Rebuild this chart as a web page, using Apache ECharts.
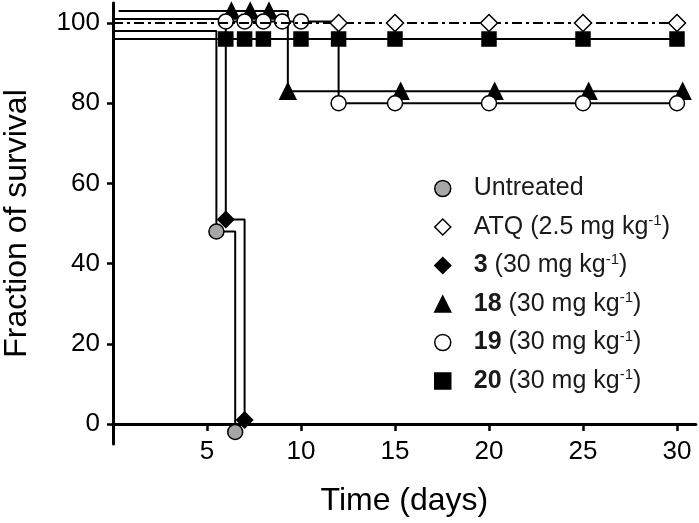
<!DOCTYPE html>
<html><head><meta charset="utf-8">
<script src="https://cdn.jsdelivr.net/npm/echarts@6/dist/echarts.min.js"></script>
<style>html,body{margin:0;padding:0;background:#fff}#c{width:699px;height:523px}</style>
</head><body><div id="c"></div>
<script>
// Axis ticks
const xTicks = [5, 10, 15, 20, 25, 30];
const yTicks = [0, 20, 40, 60, 80, 100];

// Curves (x = day, y = plotted % survival incl. the small display offsets), m = marker shown
const untreatedX = [0, 5.5, 6.5];
const untreatedY = [98, 48, -2];
const untreatedM = [0, 1, 1];

const atqX = [0, 12, 15, 20, 25, 30];
const atqY = [100, 100, 100, 100, 100, 100];
const atqM = [0, 1, 1, 1, 1, 1];

const c3X = [0, 6, 7];
const c3Y = [101, 51, 1];
const c3M = [0, 1, 1];

const c18X = [0.3, 6.3, 7.3, 8.3, 9.3, 15.3, 20.3, 25.3, 30.3];
const c18Y = [103, 103, 103, 103, 83, 83, 83, 83, 83];
const c18M = [0, 1, 1, 1, 1, 1, 1, 1, 1];

const c19X = [0, 6, 7, 8, 9, 10, 12, 15, 20, 25, 30];
const c19Y = [101, 100.4, 100.4, 100.4, 100.4, 100.4, 80, 80, 80, 80, 80];
const c19M = [0, 1, 1, 1, 1, 1, 1, 1, 1, 1, 1];

const c20X = [0, 6, 7, 8, 10, 12, 15, 20, 25, 30];
const c20Y = [96, 96, 96, 96, 96, 96, 96, 96, 96, 96];
const c20M = [0, 1, 1, 1, 1, 1, 1, 1, 1, 1];

const names = ['Untreated', 'ATQ', '3', '18', '19', '20'];
const labels = {
  'Untreated': '{t|Untreated}',
  'ATQ': '{t|ATQ (2.5 mg kg}{s|-1}{t|)}',
  '3': '{b|3}{t| (30 mg kg}{s|-1}{t|)}',
  '18': '{b|18}{t| (30 mg kg}{s|-1}{t|)}',
  '19': '{b|19}{t| (30 mg kg}{s|-1}{t|)}',
  '20': '{b|20}{t| (30 mg kg}{s|-1}{t|)}'
};

function pts(xs, ys, ms) {
  return xs.map((x, i) => ms[i] ? { value: [x, ys[i]] } : { value: [x, ys[i]], symbol: 'none' });
}
function mk(name, xs, ys, ms, symbol, size, fill, dash, z) {
  return {
    name: name, type: 'line', step: 'end', clip: false, z: z,
    data: pts(xs, ys, ms),
    symbol: symbol, symbolSize: size, showAllSymbol: true,
    lineStyle: { color: '#000', width: 2, type: dash || 'solid' },
    itemStyle: { color: fill, borderColor: '#000', borderWidth: 1.5, opacity: 1 },
    emphasis: { disabled: true }
  };
}
const styles = {
  'Untreated': { icon: 'circle', color: '#a6a6a6' },
  'ATQ': { icon: 'diamond', color: '#fff' },
  '3': { icon: 'diamond', color: '#000' },
  '18': { icon: 'triangle', color: '#000' },
  '19': { icon: 'circle', color: '#fff' },
  '20': { icon: 'rect', color: '#000' }
};
const series = [
  mk('Untreated', untreatedX, untreatedY, untreatedM, 'circle', 15, '#a6a6a6', null, 2),
  mk('3', c3X, c3Y, c3M, 'diamond', 16, '#000', null, 3),
  mk('18', c18X, c18Y, c18M, 'triangle', 16, '#000', null, 4),
  mk('19', c19X, c19Y, c19M, 'circle', 15, '#fff', null, 5),
  mk('20', c20X, c20Y, c20M, 'rect', 14, '#000', null, 6),
  mk('ATQ', atqX, atqY, atqM, 'diamond', 17, '#fff', [10, 4, 3, 4], 7)
];

const FF = 'Liberation Sans, Arial, sans-serif';
const chart = echarts.init(document.getElementById('c'), null, { renderer: 'canvas' });
chart.setOption({
  animation: false,
  backgroundColor: '#fff',
  textStyle: { fontFamily: FF, color: '#000' },
  grid: { left: 113, right: 3.2, top: 3, bottom: 79, containLabel: false, outerBoundsMode: 'none' },
  xAxis: {
    type: 'value', min: 0, max: 31,
    name: 'Time (days)', nameLocation: 'middle', nameGap: 41,
    nameTextStyle: { fontSize: 32, color: '#000', fontFamily: FF, verticalAlign: 'top' },
    axisLine: { onZero: true, lineStyle: { color: '#000', width: 3 } },
    axisTick: { customValues: xTicks, length: 7, lineStyle: { color: '#000', width: 2.5 } },
    axisLabel: { customValues: xTicks, fontSize: 26, color: '#000', margin: -5 },
    splitLine: { show: false }
  },
  yAxis: {
    type: 'value', min: -5, max: 105,
    name: 'Fraction of survival', nameLocation: 'middle', nameGap: 80, nameRotate: 90,
    nameTextStyle: { fontSize: 32, color: '#000', fontFamily: FF },
    axisLine: { onZero: false, lineStyle: { color: '#000', width: 3 } },
    axisTick: { customValues: yTicks, length: 6, lineStyle: { color: '#000', width: 2.5 } },
    axisLabel: { customValues: yTicks, fontSize: 26, color: '#000', margin: 13 },
    splitLine: { show: false }
  },
  legend: {
    orient: 'vertical', left: 429, top: 171,
    itemWidth: 16, itemHeight: 16, itemGap: 12.5,
    selectedMode: false,
    data: names.map(n => ({
      name: n, icon: styles[n].icon,
      itemStyle: { color: styles[n].color, borderColor: '#000', borderWidth: 1.5 }
    })),
    formatter: n => labels[n],
    textStyle: {
      padding: [0, 0, 0, 18],
      rich: {
        t: { fontSize: 25, color: '#1a1a1a', lineHeight: 27, fontFamily: FF },
        b: { fontSize: 25, fontWeight: 'bold', color: '#1a1a1a', lineHeight: 27, fontFamily: FF },
        s: { fontSize: 15, color: '#1a1a1a', lineHeight: 27, verticalAlign: 'top', fontFamily: FF }
      }
    }
  },
  series: series
});
</script>
</body></html>
